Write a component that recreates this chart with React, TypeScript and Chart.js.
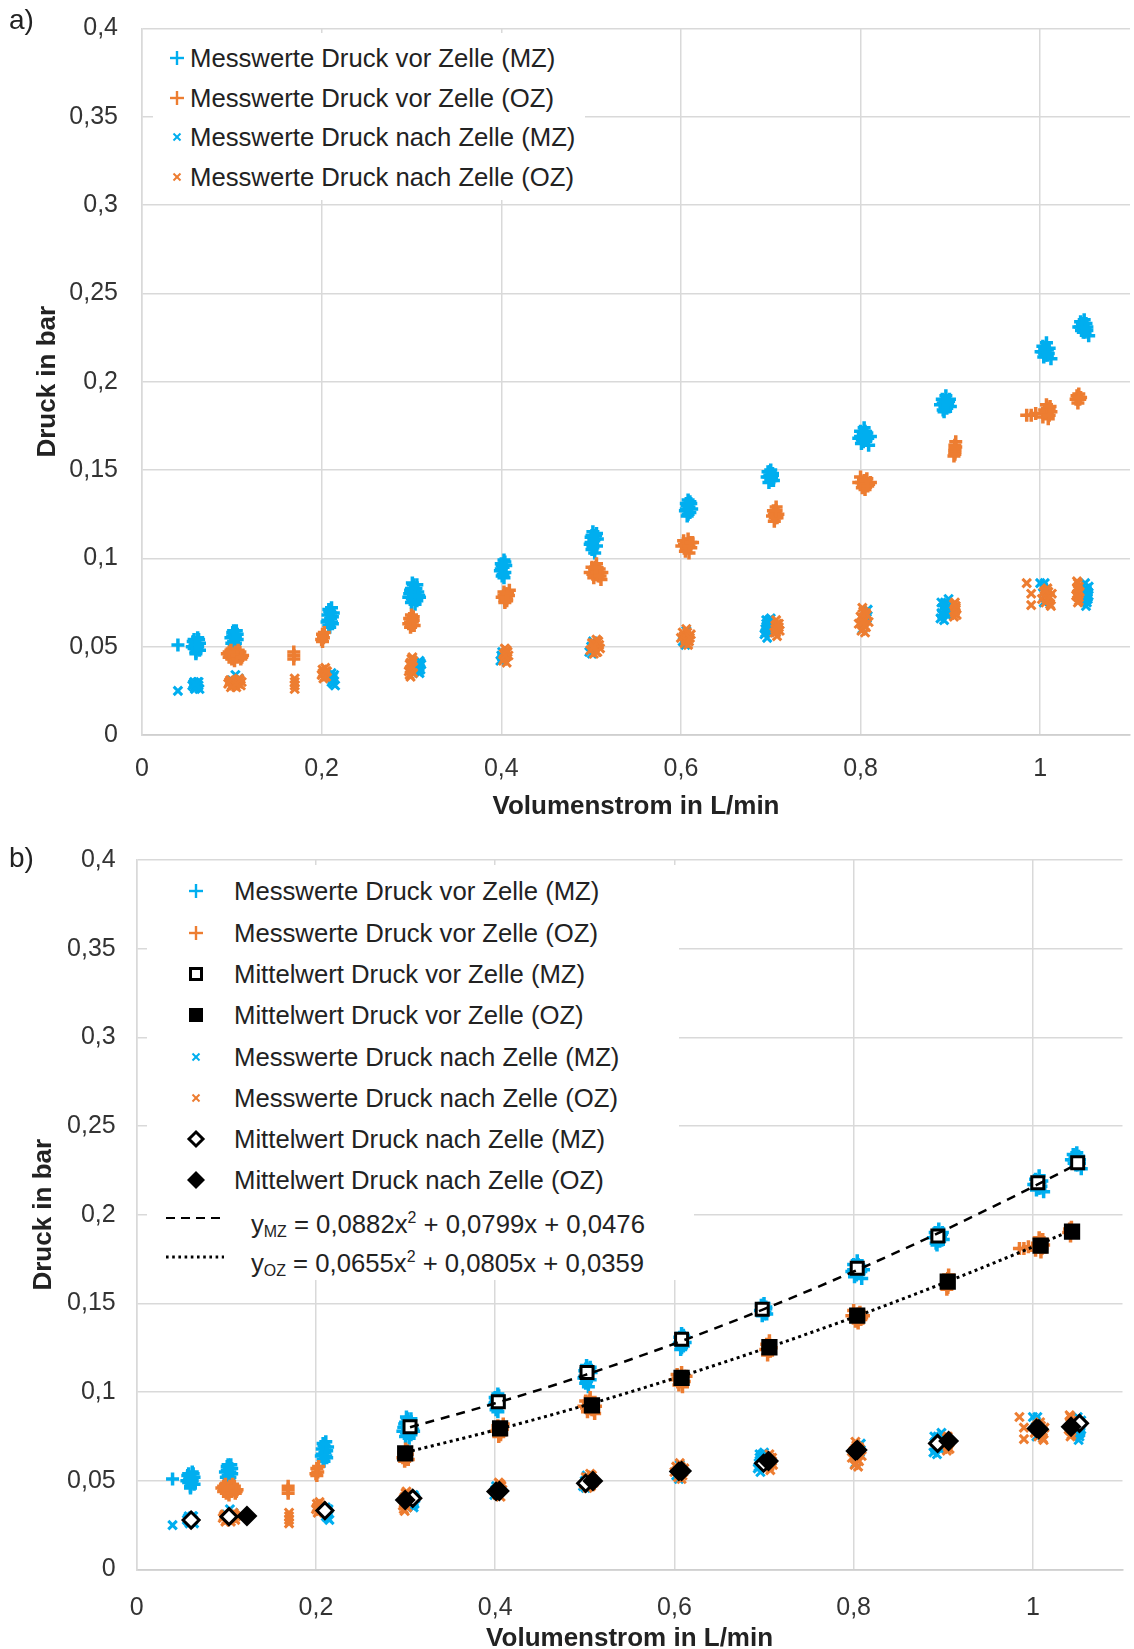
import React, { useEffect, useRef } from "react";
import { Chart, registerables } from "chart.js";

Chart.register(...registerables);

// ---------------- data ----------------
const xTickValues = [0, 0.2, 0.4, 0.6, 0.8, 1];
const xTickLabels = ["0", "0,2", "0,4", "0,6", "0,8", "1"];
const yTickValues = [0, 0.05, 0.1, 0.15, 0.2, 0.25, 0.3, 0.35, 0.4];
const yTickLabels = ["0", "0,05", "0,1", "0,15", "0,2", "0,25", "0,3", "0,35", "0,4"];

const xTitle = "Volumenstrom in L/min";
const yTitle = "Druck in bar";

const legendNamesA = [
  "Messwerte Druck vor Zelle (MZ)",
  "Messwerte Druck vor Zelle (OZ)",
  "Messwerte Druck nach Zelle (MZ)",
  "Messwerte Druck nach Zelle (OZ)",
];
const legendNamesB = [
  "Messwerte Druck vor Zelle (MZ)",
  "Messwerte Druck vor Zelle (OZ)",
  "Mittelwert Druck vor Zelle (MZ)",
  "Mittelwert Druck vor Zelle (OZ)",
  "Messwerte Druck nach Zelle (MZ)",
  "Messwerte Druck nach Zelle (OZ)",
  "Mittelwert Druck nach Zelle (MZ)",
  "Mittelwert Druck nach Zelle (OZ)",
];

// Messwerte Druck vor Zelle (MZ)
const vorMZ = [
  [0.040, 0.051],
  [0.056, 0.050], [0.058, 0.054], [0.058, 0.049], [0.060, 0.052], [0.060, 0.047], [0.062, 0.055], [0.062, 0.050], [0.064, 0.052], [0.064, 0.048], [0.060, 0.046],
  [0.057, 0.053], [0.061, 0.049], [0.063, 0.054], [0.059, 0.051],
  [0.099, 0.055], [0.101, 0.058], [0.102, 0.053], [0.103, 0.057], [0.104, 0.055], [0.105, 0.059], [0.106, 0.054], [0.100, 0.052], [0.103, 0.051],
  [0.101, 0.056], [0.104, 0.052], [0.106, 0.057], [0.102, 0.059],
  [0.206, 0.064], [0.207, 0.068], [0.208, 0.062], [0.209, 0.070], [0.210, 0.066], [0.211, 0.072], [0.212, 0.067], [0.213, 0.069], [0.209, 0.061],
  [0.207, 0.065], [0.210, 0.069], [0.212, 0.063], [0.208, 0.071], [0.211, 0.064],
  [0.297, 0.078], [0.299, 0.082], [0.300, 0.075], [0.302, 0.085], [0.303, 0.079], [0.305, 0.083], [0.306, 0.076], [0.307, 0.081], [0.309, 0.078], [0.304, 0.074], [0.301, 0.086],
  [0.298, 0.080], [0.301, 0.077], [0.304, 0.081], [0.306, 0.085], [0.308, 0.079], [0.300, 0.083],
  [0.399, 0.093], [0.400, 0.097], [0.401, 0.090], [0.402, 0.095], [0.403, 0.099], [0.404, 0.092], [0.405, 0.096], [0.403, 0.089],
  [0.400, 0.094], [0.402, 0.091], [0.404, 0.098], [0.401, 0.096],
  [0.499, 0.108], [0.500, 0.112], [0.501, 0.105], [0.502, 0.115], [0.503, 0.110], [0.504, 0.103], [0.505, 0.113], [0.506, 0.107], [0.507, 0.111],
  [0.500, 0.109], [0.502, 0.106], [0.504, 0.111], [0.506, 0.114], [0.501, 0.113],
  [0.605, 0.127], [0.606, 0.131], [0.607, 0.124], [0.608, 0.133], [0.609, 0.129], [0.610, 0.126], [0.611, 0.131], [0.612, 0.128],
  [0.606, 0.128], [0.608, 0.125], [0.610, 0.132], [0.607, 0.130],
  [0.696, 0.146], [0.697, 0.149], [0.698, 0.143], [0.699, 0.147], [0.700, 0.150], [0.701, 0.145], [0.702, 0.148], [0.703, 0.144],
  [0.698, 0.146], [0.700, 0.144], [0.702, 0.147], [0.699, 0.149],
  [0.798, 0.168], [0.800, 0.172], [0.801, 0.165], [0.803, 0.170], [0.804, 0.174], [0.806, 0.167], [0.807, 0.171], [0.809, 0.164], [0.811, 0.169],
  [0.800, 0.169], [0.802, 0.167], [0.805, 0.172], [0.808, 0.168], [0.803, 0.166],
  [0.889, 0.187], [0.891, 0.190], [0.892, 0.184], [0.894, 0.188], [0.895, 0.192], [0.896, 0.185], [0.898, 0.189], [0.900, 0.186], [0.893, 0.183],
  [0.892, 0.188], [0.894, 0.186], [0.897, 0.187], [0.899, 0.190],
  [1.001, 0.217], [1.003, 0.220], [1.004, 0.214], [1.006, 0.218], [1.007, 0.222], [1.008, 0.215], [1.010, 0.219], [1.012, 0.213], [1.005, 0.216],
  [1.003, 0.217], [1.005, 0.219], [1.008, 0.218], [1.006, 0.215], [1.009, 0.216],
  [1.043, 0.231], [1.045, 0.234], [1.046, 0.229], [1.048, 0.232], [1.049, 0.235], [1.050, 0.228], [1.052, 0.231], [1.054, 0.226], [1.051, 0.233],
  [1.045, 0.231], [1.047, 0.233], [1.050, 0.230], [1.052, 0.229], [1.048, 0.228],
];

// Messwerte Druck vor Zelle (OZ)
const vorOZ = [
  [0.095, 0.046], [0.097, 0.044], [0.099, 0.048], [0.101, 0.045], [0.103, 0.042], [0.104, 0.047], [0.106, 0.044], [0.108, 0.046], [0.110, 0.043], [0.112, 0.045], [0.100, 0.043], [0.107, 0.048],
  [0.098, 0.045], [0.102, 0.046], [0.105, 0.045], [0.109, 0.047], [0.111, 0.044], [0.097, 0.047],
  [0.169, 0.047], [0.169, 0.045], [0.169, 0.043],
  [0.200, 0.054], [0.201, 0.057], [0.202, 0.055], [0.203, 0.058], [0.201, 0.053],
  [0.297, 0.063], [0.298, 0.066], [0.299, 0.061], [0.300, 0.068], [0.301, 0.064], [0.302, 0.067], [0.303, 0.062],
  [0.299, 0.064], [0.301, 0.066], [0.300, 0.062], [0.302, 0.065],
  [0.401, 0.078], [0.403, 0.081], [0.404, 0.076], [0.405, 0.080], [0.406, 0.077], [0.408, 0.079], [0.409, 0.082], [0.404, 0.075],
  [0.403, 0.079], [0.405, 0.078], [0.407, 0.080], [0.406, 0.076],
  [0.499, 0.092], [0.501, 0.095], [0.503, 0.089], [0.505, 0.093], [0.506, 0.097], [0.508, 0.090], [0.509, 0.094], [0.511, 0.088], [0.512, 0.092],
  [0.502, 0.091], [0.504, 0.094], [0.507, 0.092], [0.510, 0.090], [0.505, 0.095],
  [0.601, 0.107], [0.603, 0.110], [0.605, 0.104], [0.607, 0.108], [0.608, 0.111], [0.609, 0.103], [0.611, 0.106], [0.613, 0.109],
  [0.604, 0.108], [0.606, 0.106], [0.609, 0.107], [0.611, 0.109],
  [0.702, 0.124], [0.703, 0.127], [0.704, 0.121], [0.705, 0.126], [0.706, 0.129], [0.707, 0.123], [0.708, 0.125],
  [0.704, 0.125], [0.705, 0.123], [0.706, 0.127],
  [0.798, 0.143], [0.800, 0.146], [0.802, 0.140], [0.804, 0.144], [0.805, 0.139], [0.807, 0.145], [0.809, 0.142], [0.811, 0.143],
  [0.801, 0.143], [0.803, 0.142], [0.806, 0.144], [0.808, 0.141],
  [0.904, 0.158], [0.905, 0.161], [0.905, 0.164], [0.906, 0.166], [0.905, 0.160], [0.906, 0.163], [0.905, 0.162], [0.905, 0.159],
  [0.985, 0.181], [0.990, 0.181], [0.995, 0.182], [1.003, 0.180], [1.005, 0.184], [1.007, 0.187], [1.008, 0.182], [1.009, 0.179], [1.010, 0.185], [1.012, 0.183],
  [1.006, 0.183], [1.008, 0.185], [1.010, 0.181], [1.011, 0.186],
  [1.040, 0.190], [1.041, 0.192], [1.042, 0.188], [1.043, 0.193], [1.044, 0.190], [1.045, 0.191], [1.042, 0.190], [1.043, 0.191],
];

// Messwerte Druck nach Zelle (MZ)
const nachMZ = [
  [0.040, 0.025],
  [0.056, 0.028], [0.058, 0.030], [0.059, 0.026], [0.060, 0.029], [0.061, 0.027], [0.062, 0.030], [0.063, 0.028], [0.064, 0.026], [0.058, 0.027],
  [0.057, 0.029], [0.060, 0.027], [0.062, 0.028], [0.063, 0.030], [0.059, 0.029],
  [0.100, 0.031], [0.104, 0.034], [0.106, 0.030], [0.108, 0.032], [0.102, 0.029],
  [0.210, 0.033], [0.211, 0.035], [0.212, 0.031], [0.213, 0.029], [0.214, 0.034], [0.215, 0.028], [0.212, 0.032], [0.211, 0.030], [0.213, 0.033],
  [0.307, 0.036], [0.308, 0.039], [0.309, 0.042], [0.310, 0.037], [0.311, 0.040], [0.309, 0.035], [0.308, 0.037], [0.310, 0.041], [0.309, 0.038],
  [0.399, 0.042], [0.400, 0.045], [0.401, 0.047], [0.402, 0.043], [0.401, 0.044],
  [0.498, 0.047], [0.500, 0.050], [0.502, 0.053], [0.503, 0.049], [0.501, 0.046],
  [0.602, 0.053], [0.604, 0.056], [0.606, 0.059], [0.607, 0.054], [0.605, 0.051],
  [0.693, 0.057], [0.694, 0.060], [0.695, 0.063], [0.696, 0.055], [0.697, 0.058], [0.698, 0.065], [0.699, 0.061], [0.700, 0.066], [0.697, 0.062],
  [0.694, 0.058], [0.696, 0.061], [0.698, 0.063], [0.695, 0.065], [0.699, 0.059],
  [0.802, 0.060], [0.804, 0.064], [0.806, 0.068], [0.808, 0.071], [0.807, 0.066],
  [0.889, 0.066], [0.890, 0.069], [0.891, 0.072], [0.893, 0.065], [0.894, 0.075], [0.895, 0.070], [0.897, 0.073], [0.898, 0.077], [0.896, 0.068],
  [0.891, 0.068], [0.893, 0.071], [0.895, 0.074], [0.897, 0.069], [0.890, 0.075],
  [1.000, 0.086], [1.003, 0.084], [1.005, 0.086], [1.007, 0.080], [1.008, 0.077], [1.004, 0.075], [1.006, 0.082],
  [1.050, 0.086], [1.051, 0.083], [1.052, 0.080], [1.053, 0.077], [1.054, 0.084], [1.052, 0.075], [1.051, 0.073], [1.053, 0.081],
  [1.052, 0.082], [1.053, 0.078], [1.051, 0.076], [1.054, 0.079],
];

// Messwerte Druck nach Zelle (OZ)
const nachOZ = [
  [0.096, 0.029], [0.098, 0.031], [0.099, 0.027], [0.101, 0.030], [0.102, 0.028], [0.104, 0.031], [0.105, 0.027], [0.107, 0.029], [0.108, 0.032], [0.110, 0.028], [0.111, 0.030],
  [0.097, 0.030], [0.100, 0.028], [0.103, 0.029], [0.106, 0.030], [0.109, 0.031], [0.099, 0.031], [0.105, 0.029],
  [0.170, 0.032], [0.170, 0.030], [0.170, 0.028], [0.170, 0.026],
  [0.200, 0.034], [0.201, 0.037], [0.202, 0.032], [0.203, 0.035], [0.204, 0.038], [0.205, 0.033], [0.206, 0.036],
  [0.201, 0.035], [0.203, 0.033], [0.205, 0.036],
  [0.297, 0.036], [0.298, 0.040], [0.299, 0.033], [0.300, 0.043], [0.301, 0.038], [0.302, 0.035], [0.299, 0.041], [0.301, 0.044],
  [0.298, 0.037], [0.300, 0.039], [0.302, 0.042], [0.298, 0.034],
  [0.402, 0.042], [0.403, 0.046], [0.404, 0.049], [0.405, 0.044], [0.406, 0.041], [0.407, 0.047], [0.408, 0.045],
  [0.403, 0.043], [0.405, 0.047], [0.404, 0.045], [0.406, 0.048],
  [0.499, 0.048], [0.501, 0.052], [0.503, 0.046], [0.505, 0.050], [0.506, 0.054], [0.507, 0.047], [0.509, 0.051], [0.510, 0.049],
  [0.502, 0.049], [0.504, 0.052], [0.506, 0.047], [0.508, 0.053], [0.503, 0.050],
  [0.600, 0.055], [0.602, 0.058], [0.604, 0.052], [0.606, 0.060], [0.607, 0.056], [0.609, 0.053], [0.611, 0.057], [0.608, 0.051],
  [0.603, 0.056], [0.605, 0.054], [0.607, 0.058], [0.610, 0.055],
  [0.704, 0.058], [0.705, 0.062], [0.706, 0.065], [0.707, 0.056], [0.708, 0.060], [0.709, 0.063], [0.710, 0.059],
  [0.705, 0.060], [0.707, 0.063], [0.709, 0.061], [0.706, 0.058],
  [0.798, 0.063], [0.800, 0.067], [0.801, 0.059], [0.803, 0.070], [0.804, 0.065], [0.806, 0.061], [0.807, 0.068], [0.809, 0.064], [0.802, 0.072], [0.805, 0.058],
  [0.802, 0.066], [0.804, 0.062], [0.806, 0.069], [0.803, 0.064],
  [0.904, 0.067], [0.905, 0.070], [0.906, 0.073], [0.907, 0.068], [0.905, 0.075], [0.906, 0.071], [0.905, 0.069], [0.906, 0.072], [0.904, 0.074],
  [0.985, 0.086], [0.990, 0.080], [0.990, 0.0735], [1.002, 0.077], [1.004, 0.081], [1.006, 0.075], [1.008, 0.083], [1.009, 0.078], [1.011, 0.074], [1.013, 0.080], [1.012, 0.073],
  [1.005, 0.079], [1.007, 0.077], [1.009, 0.081], [1.011, 0.078], [1.006, 0.082],
  [1.040, 0.079], [1.041, 0.083], [1.042, 0.086], [1.043, 0.076], [1.044, 0.081], [1.041, 0.087], [1.043, 0.078], [1.042, 0.075],
  [1.041, 0.080], [1.042, 0.082], [1.043, 0.084], [1.042, 0.078],
];

// Mittelwerte (chart b)
const mwVorMZ = [
  [0.305, 0.0805], [0.4035, 0.0946], [0.5025, 0.111], [0.608, 0.1298], [0.698, 0.1467],
  [0.804, 0.1698], [0.894, 0.188], [1.0055, 0.2181], [1.05, 0.2293],
];
const mwVorOZ = [
  [0.2996, 0.0655], [0.4055, 0.0796], [0.508, 0.0925], [0.608, 0.1081], [0.706, 0.1253],
  [0.804, 0.1431], [0.905, 0.1623], [1.0086, 0.1826], [1.0437, 0.1905],
];
const mwNachMZ = [
  [0.0607, 0.0279], [0.103, 0.0298], [0.21, 0.0332], [0.308, 0.0401], [0.401, 0.044], [0.501, 0.0486],
  [0.605, 0.0553], [0.6995, 0.0599], [0.802, 0.0668], [0.8937, 0.0711], [1.004, 0.0795], [1.052, 0.0824],
];
const mwNachOZ = [
  [0.123, 0.0302], [0.2996, 0.0392], [0.4047, 0.0443], [0.509, 0.0499], [0.608, 0.0555],
  [0.705, 0.0612], [0.804, 0.0674], [0.906, 0.0724], [1.0067, 0.079], [1.0426, 0.0805],
];

// Trendlinien
const trendMZx = [0.305, 0.4, 0.5, 0.6, 0.7, 0.8, 0.9, 1.0, 1.05];
const trendMZy = [0.0802, 0.0937, 0.1096, 0.1273, 0.1468, 0.168, 0.191, 0.2157, 0.2287];
const trendOZx = [0.3, 0.4, 0.5, 0.6, 0.7, 0.8, 0.9, 1.0, 1.045];
const trendOZy = [0.066, 0.0786, 0.0925, 0.1078, 0.1244, 0.1422, 0.1614, 0.1819, 0.1916];

// ---------------- styles ----------------
const BLUE = "#00AEEF";
const ORANGE = "#ED7D31";
const GRID = "#D9D9D9";
const AXIS = "#CFCFCF";
const TICK = "#333333";
const TEXT = "#222222";
const FONT = '"Liberation Sans", Arial, sans-serif';

const toPts = (arr: number[][]) => arr.map(([x, y]) => ({ x, y }));
const zip = (xs: number[], ys: number[]) => xs.map((x, i) => ({ x, y: ys[i] }));
const labelFor = (vals: number[], labels: string[], v: number) => {
  const i = vals.findIndex((t) => Math.abs(t - v) < 1e-9);
  return i >= 0 ? labels[i] : "";
};

const plus = (data: number[][], color: string) => ({
  data: toPts(data), showLine: false, pointStyle: "cross", pointRadius: 6.5,
  pointBorderColor: color, pointBackgroundColor: color, pointBorderWidth: 3.5,
  borderColor: color, backgroundColor: color,
});
const cross = (data: number[][], color: string) => ({
  data: toPts(data), showLine: false, pointStyle: "crossRot", pointRadius: 6,
  pointBorderColor: color, pointBackgroundColor: color, pointBorderWidth: 3,
  borderColor: color, backgroundColor: color,
});
const marker = (data: number[][], style: string, r: number, fill: string, bw: number) => ({
  data: toPts(data), showLine: false, pointStyle: style, pointRadius: r,
  pointBorderColor: "#000", pointBackgroundColor: fill, pointBorderWidth: bw,
  borderColor: "#000", backgroundColor: fill,
});
const trend = (pts: any[], dash: number[], w: number) => ({
  data: pts, showLine: true, pointRadius: 0, borderColor: "#000", borderWidth: w,
  borderDash: dash, cubicInterpolationMode: "monotone", fill: false,
});

function buildOptions(L: any) {
  return {
    responsive: false,
    animation: false,
    events: [],
    layout: { padding: { top: L.padTop, left: 0, right: 0, bottom: 0 } },
    plugins: { legend: { display: false }, tooltip: { enabled: false } },
    scales: {
      x: {
        type: "linear", position: "bottom", min: 0, max: 1.1,
        afterBuildTicks: (s: any) => { s.ticks = xTickValues.map((v) => ({ value: v })); },
        afterFit: (s: any) => { s.height = L.xHeight; },
        ticks: {
          padding: L.xTickPad, color: TICK, autoSkip: false, maxRotation: 0,
          font: { size: 25, family: FONT },
          callback: (v: number) => labelFor(xTickValues, xTickLabels, v),
        },
        grid: { color: GRID, lineWidth: 1.5, drawTicks: false },
        border: { display: true, color: AXIS, width: 1.8 },
        title: {
          display: true, text: xTitle, color: TEXT,
          font: { size: 26, weight: "bold", family: FONT },
          padding: { top: 0, bottom: L.xTitlePad },
        },
      },
      y: {
        type: "linear", position: "left", min: 0, max: 0.4,
        afterBuildTicks: (s: any) => { s.ticks = yTickValues.map((v) => ({ value: v })); },
        afterFit: (s: any) => { s.width = L.yWidth; },
        ticks: {
          padding: L.yTickPad, color: TICK, autoSkip: false,
          font: { size: 25, family: FONT, lineHeight: 0.3 },
          callback: (v: number) => labelFor(yTickValues, yTickLabels, v),
        },
        grid: { color: GRID, lineWidth: 1.5, drawTicks: false },
        border: { display: true, color: GRID, width: 1.5 },
        title: {
          display: true, text: yTitle, color: TEXT,
          font: { size: 26, weight: "bold", family: FONT },
          padding: { top: L.yTitlePad, bottom: 0 },
        },
      },
    },
  };
}

const LAYOUT_A = { top: 0, width: 1140, height: 830, padTop: 28.4, yWidth: 142, xHeight: 95, xTickPad: 19, yTickPad: 24, yTitlePad: 32.5, xTitlePad: 7.4 };
const LAYOUT_B = { top: 830, width: 1134, height: 830, padTop: 30, yWidth: 136.7, xHeight: 90.5, xTickPad: 23.5, yTickPad: 21, yTitlePad: 28.5, xTitlePad: 5.4 };

function withOrder(list: any[]) {
  return list.map((d, i) => ({ ...d, order: list.length - i }));
}

function MarkerIcon({ kind, color }: { kind: string; color?: string }) {
  const c = color || "#000";
  let el: any = null;
  if (kind === "plus") {
    el = (
      <g stroke={c} strokeWidth={2.4}>
        <line x1={5} y1={12} x2={19} y2={12} />
        <line x1={12} y1={5} x2={12} y2={19} />
      </g>
    );
  } else if (kind === "x") {
    el = (
      <g stroke={c} strokeWidth={2}>
        <line x1={8.5} y1={8.5} x2={15.5} y2={15.5} />
        <line x1={15.5} y1={8.5} x2={8.5} y2={15.5} />
      </g>
    );
  } else if (kind === "osq") {
    el = <rect x={6.5} y={6.5} width={11} height={11} fill="#fff" stroke="#000" strokeWidth={3} />;
  } else if (kind === "fsq") {
    el = <rect x={5} y={5} width={14} height={14} fill="#000" />;
  } else if (kind === "odia") {
    el = <polygon points="12,5 19,12 12,19 5,12" fill="#fff" stroke="#000" strokeWidth={3} />;
  } else if (kind === "fdia") {
    el = <polygon points="12,3 21,12 12,21 3,12" fill="#000" />;
  }
  return (
    <svg width={24} height={24} viewBox="0 0 24 24" style={{ display: "block" }}>
      {el}
    </svg>
  );
}

function LegendRow({ cx, cy, textX, kind, color, text }: any) {
  return (
    <>
      <div style={{ position: "absolute", left: cx - 12, top: cy - 12 }}>
        <MarkerIcon kind={kind} color={color} />
      </div>
      <div style={{ position: "absolute", left: textX, top: cy - 15, height: 30, lineHeight: "30px", fontSize: 25.7, color: TEXT, whiteSpace: "nowrap" }}>
        {text}
      </div>
    </>
  );
}

const rowsA = [58, 97.5, 137, 176.5];
const kindsA = [["plus", BLUE], ["plus", ORANGE], ["x", BLUE], ["x", ORANGE]];
const rowsB = [891, 932.5, 974, 1015, 1057, 1098, 1139, 1180];
const kindsB = [["plus", BLUE], ["plus", ORANGE], ["osq", "#000"], ["fsq", "#000"], ["x", BLUE], ["x", ORANGE], ["odia", "#000"], ["fdia", "#000"]];

export default function App() {
  const refA = useRef<HTMLCanvasElement>(null);
  const refB = useRef<HTMLCanvasElement>(null);

  useEffect(() => {
    Chart.defaults.font.family = FONT;
    const dsA = withOrder([
      plus(vorMZ, BLUE),
      plus(vorOZ, ORANGE),
      cross(nachMZ, BLUE),
      cross(nachOZ, ORANGE),
    ]);
    const dsB = withOrder([
      plus(vorMZ, BLUE),
      plus(vorOZ, ORANGE),
      marker(mwVorMZ, "rect", 8.5, "#fff", 3),
      marker(mwVorOZ, "rect", 11.5, "#000", 0),
      cross(nachMZ, BLUE),
      cross(nachOZ, ORANGE),
      marker(mwNachMZ, "rectRot", 8, "#fff", 3),
      marker(mwNachOZ, "rectRot", 10.5, "#000", 0),
      trend(zip(trendMZx, trendMZy), [9, 7], 2.5),
      trend(zip(trendOZx, trendOZy), [3, 3.5], 3),
    ]);
    const a = new Chart(refA.current as HTMLCanvasElement, {
      type: "scatter",
      data: { datasets: dsA as any },
      options: buildOptions(LAYOUT_A) as any,
    });
    const b = new Chart(refB.current as HTMLCanvasElement, {
      type: "scatter",
      data: { datasets: dsB as any },
      options: buildOptions(LAYOUT_B) as any,
    });
    return () => {
      a.destroy();
      b.destroy();
    };
  }, []);

  return (
    <div style={{ position: "relative", width: 1134, height: 1649, overflow: "hidden", background: "#fff", fontFamily: FONT }}>
      <style>{"html,body{margin:0;padding:0;overflow:hidden;background:#fff}"}</style>
      <canvas ref={refA} width={LAYOUT_A.width} height={LAYOUT_A.height}
        style={{ position: "absolute", left: 0, top: LAYOUT_A.top, width: LAYOUT_A.width, height: LAYOUT_A.height }} />
      <canvas ref={refB} width={LAYOUT_B.width} height={LAYOUT_B.height}
        style={{ position: "absolute", left: 0, top: LAYOUT_B.top, width: LAYOUT_B.width, height: LAYOUT_B.height }} />

      <div style={{ position: "absolute", left: 9, top: 6, fontSize: 28, lineHeight: "28px", color: TEXT }}>a)</div>
      <div style={{ position: "absolute", left: 9, top: 844, fontSize: 28, lineHeight: "28px", color: TEXT }}>b)</div>

      {/* legend a */}
      <div style={{ position: "absolute", left: 153, top: 33, width: 432, height: 167, background: "#fff" }} />
      {legendNamesA.map((t, i) => (
        <LegendRow key={"a" + i} cx={177} cy={rowsA[i]} textX={190} kind={kindsA[i][0]} color={kindsA[i][1]} text={t} />
      ))}

      {/* legend b */}
      <div style={{ position: "absolute", left: 147, top: 865, width: 532, height: 328, background: "#fff" }} />
      <div style={{ position: "absolute", left: 147, top: 1193, width: 547, height: 87, background: "#fff" }} />
      {legendNamesB.map((t, i) => (
        <LegendRow key={"b" + i} cx={196} cy={rowsB[i]} textX={234} kind={kindsB[i][0]} color={kindsB[i][1]} text={t} />
      ))}
      <svg width={60} height={10} style={{ position: "absolute", left: 165, top: 1213 }}>
        <line x1={1} y1={5} x2={59} y2={5} stroke="#000" strokeWidth={2} strokeDasharray="9 6" />
      </svg>
      <svg width={60} height={10} style={{ position: "absolute", left: 165, top: 1252 }}>
        <line x1={1} y1={5} x2={59} y2={5} stroke="#000" strokeWidth={3} strokeDasharray="2.6 3.6" />
      </svg>
      <div style={{ position: "absolute", left: 251, top: 1203, height: 30, lineHeight: "30px", fontSize: 25.7, color: TEXT, whiteSpace: "nowrap" }}>
        y<span style={{ fontSize: "0.62em", verticalAlign: "-0.28em" }}>MZ</span> = 0,0882x<span style={{ fontSize: "0.62em", verticalAlign: "0.6em" }}>2</span> + 0,0799x + 0,0476
      </div>
      <div style={{ position: "absolute", left: 251, top: 1242, height: 30, lineHeight: "30px", fontSize: 25.7, color: TEXT, whiteSpace: "nowrap" }}>
        y<span style={{ fontSize: "0.62em", verticalAlign: "-0.28em" }}>OZ</span> = 0,0655x<span style={{ fontSize: "0.62em", verticalAlign: "0.6em" }}>2</span> + 0,0805x + 0,0359
      </div>
    </div>
  );
}
